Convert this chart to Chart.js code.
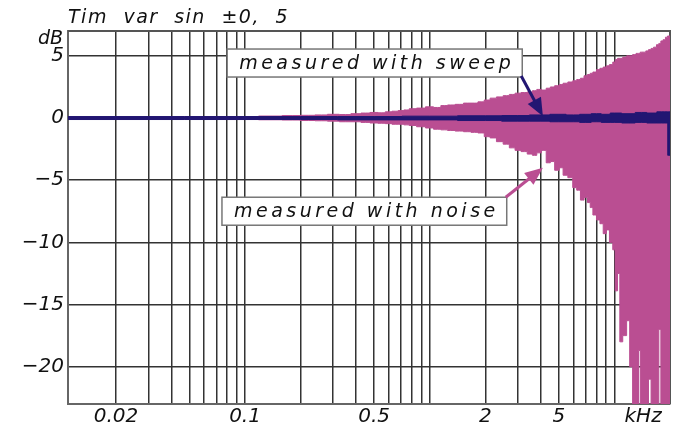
<!DOCTYPE html>
<html>
<head>
<meta charset="utf-8">
<title>Tim var sin ±0, 5</title>
<script src="https://cdn.jsdelivr.net/npm/chart.js@4.4.1/dist/chart.umd.min.js"></script>
<style>
  html, body { margin: 0; padding: 0; background: #fff; }
  #wrap { width: 684px; height: 428px; }
</style>
</head>
<body>
<div id="wrap"><canvas id="chart" width="684" height="428"></canvas></div>
<script>
// frequency response, kHz / dB
var noiseFreq = [0.011, 0.03, 0.06, 0.1, 0.14, 0.18, 0.22, 0.26, 0.3, 0.35, 0.4, 0.45, 0.5, 0.55, 0.6, 0.65,
    0.7, 0.75, 0.8, 0.9, 1.0, 1.1, 1.2, 1.3, 1.45, 1.6, 1.75, 1.9, 2.05, 2.2, 2.4, 2.6, 2.8, 3.0, 3.25,
    3.5, 3.7, 3.9, 4.15, 4.4, 4.6, 4.9, 5.15, 5.4, 5.8, 6.1, 6.4, 6.7, 7.0, 7.3, 7.5, 7.8, 8.2, 8.5,
    8.9, 9.2, 9.6, 10.0, 10.2, 10.6, 10.8, 11.4, 11.9, 12.3, 12.8, 13.4, 13.6, 14.0, 14.6, 15.0, 15.6,
    16.0, 16.6, 17.2, 17.6, 18.1, 18.6, 19.2, 19.6, 20];
var noiseTop = [0.06, 0.08, 0.1, 0.12, 0.16, 0.2, 0.22, 0.25, 0.3, 0.28, 0.35, 0.4, 0.45, 0.42, 0.5, 0.55,
    0.6, 0.65, 0.75, 0.8, 0.9, 0.85, 1.0, 1.05, 1.1, 1.2, 1.2, 1.3, 1.45, 1.6, 1.7, 1.8, 1.9, 2.0, 2.05,
    2.1, 2.2, 2.3, 2.25, 2.4, 2.5, 2.6, 2.7, 2.8, 2.9, 3.0, 3.1, 3.2, 3.4, 3.5, 3.6, 3.7, 3.9, 4.0,
    4.1, 4.2, 4.3, 4.5, 4.7, 4.8, 4.8, 4.9, 5.0, 5.0, 5.1, 5.2, 5.2, 5.3, 5.3, 5.4, 5.5,
    5.6, 5.7, 5.9, 6.0, 6.2, 6.3, 6.5, 6.6, 6.6];
var noiseBottom = [-0.06, -0.08, -0.1, -0.12, -0.14, -0.16, -0.2, -0.22, -0.25, -0.3, -0.3, -0.35, -0.4, -0.42, -0.45, -0.5,
    -0.5, -0.55, -0.6, -0.7, -0.8, -0.9, -0.95, -1.0, -1.05, -1.1, -1.15, -1.2, -1.5, -1.6, -1.9, -2.1, -2.4, -2.6, -2.7,
    -2.9, -3.0, -2.8, -2.6, -3.6, -3.5, -4.2, -4.0, -4.6, -4.8, -5.6, -5.8, -6.6, -6.4, -6.8, -7.2, -7.8, -8.2, -8.5,
    -9.3, -9.0, -10.0, -10.6, -13.9, -12.5, -18.0, -17.5, -16.3, -20.0, -25, -25, -18.7, -25, -25, -25, -21.0,
    -25, -25, -25, -17.0, -25, -25, -25, -25, -25];

var sweepFreq = [0.011, 0.2, 0.5, 1, 2, 3, 4, 5, 6, 7, 8, 9, 10, 12, 14, 16, 18, 19.3, 19.6, 20];
var sweepTop = [0.12, 0.12, 0.12, 0.15, 0.18, 0.2, 0.25, 0.3, 0.25, 0.3, 0.35, 0.3, 0.4, 0.35, 0.45, 0.4, 0.5, 0.5, 0.5, 0.5];
var sweepBottom = [-0.12, -0.12, -0.15, -0.15, -0.2, -0.25, -0.25, -0.3, -0.3, -0.35, -0.3, -0.35, -0.35, -0.4, -0.35, -0.4, -0.4, -0.4, -3.0, -3.0];

// axis ticks
var gridFreqs = [0.02, 0.03, 0.04, 0.05, 0.06, 0.07, 0.08, 0.09, 0.1, 0.2, 0.3, 0.4, 0.5, 0.6, 0.7, 0.8, 0.9,
    1, 2, 3, 4, 5, 6, 7, 8, 9, 10];
var freqLabels = [0.02, 0.1, 0.5, 2, 5];
var unitTickAt = 14.3;
var dbTicks = [-20, -15, -10, -5, 0, 5];

var NAVY = 'rgb(34, 22, 114)';
var PINK = 'rgb(186, 78, 146)';
var FONT = 'DejaVu Sans';

var notes = [
    { text: 'measured with sweep', x: 0.080, y: 5.55, tipX: 4.1, tipY: 0.15, corner: 'bottom', color: NAVY },
    { text: 'measured with noise', x: 0.075, y: -6.37, tipX: 4.1, tipY: -4.0, corner: 'top', color: PINK }
];

// closed outline: upper edge left to right, then lower edge back
function band(xs, top, bottom) {
    var pts = xs.map(function (v, i) { return { x: v, y: top[i] }; });
    for (var i = xs.length - 1; i >= 0; i--) pts.push({ x: xs[i], y: bottom[i] });
    return pts;
}

function arrow(ctx, x1, y1, x2, y2, color) {
    var ang = Math.atan2(y2 - y1, x2 - x1);
    var len = 18, half = 7.5;
    ctx.save();
    ctx.strokeStyle = color;
    ctx.fillStyle = color;
    ctx.lineWidth = 3;
    ctx.beginPath();
    ctx.moveTo(x1, y1);
    ctx.lineTo(x2 - Math.cos(ang) * len * 0.8, y2 - Math.sin(ang) * len * 0.8);
    ctx.stroke();
    ctx.beginPath();
    ctx.moveTo(x2, y2);
    ctx.lineTo(x2 - Math.cos(ang) * len - Math.sin(ang) * half, y2 - Math.sin(ang) * len + Math.cos(ang) * half);
    ctx.lineTo(x2 - Math.cos(ang) * len + Math.sin(ang) * half, y2 - Math.sin(ang) * len - Math.cos(ang) * half);
    ctx.closePath();
    ctx.fill();
    ctx.restore();
}

var decor = {
    id: 'decor',
    beforeDatasetsDraw: function (chart) {
        var ctx = chart.ctx, a = chart.chartArea;
        ctx.save();
        ctx.strokeStyle = '#555';
        ctx.lineWidth = 2;
        ctx.beginPath();
        ctx.moveTo(a.left, a.top);
        ctx.lineTo(a.right, a.top);
        ctx.lineTo(a.right, a.bottom);
        ctx.stroke();
        ctx.restore();
    },
    afterDraw: function (chart) {
        var ctx = chart.ctx, a = chart.chartArea;
        var xs = chart.scales.x, ys = chart.scales.y;
        ctx.save();
        ctx.fillStyle = '#111';
        ctx.textBaseline = 'alphabetic';
        ctx.font = 'italic 19px "' + FONT + '"';
        ctx.letterSpacing = '1.5px';
        ctx.wordSpacing = '8px';
        ctx.textAlign = 'left';
        ctx.fillText('Tim var sin ±0, 5', a.left, 23);
        ctx.wordSpacing = '0px';
        ctx.letterSpacing = '0px';
        ctx.textAlign = 'right';
        ctx.fillText('dB', a.left - 5, 44);

        notes.forEach(function (n) {
            ctx.font = 'italic 19px "' + FONT + '"';
            ctx.letterSpacing = '3.5px';
            ctx.textAlign = 'left';
            var w = ctx.measureText(n.text).width + 20;
            var h = 28;
            var bx = xs.getPixelForValue(n.x), by = ys.getPixelForValue(n.y);
            ctx.fillStyle = '#fff';
            ctx.fillRect(bx, by, w, h);
            ctx.strokeStyle = '#777';
            ctx.lineWidth = 1.5;
            ctx.strokeRect(bx, by, w, h);
            ctx.fillStyle = '#111';
            ctx.fillText(n.text, bx + 12, by + 20);
            var tx = bx + w - 1, ty = n.corner === 'bottom' ? by + h - 1 : by;
            arrow(ctx, tx, ty, xs.getPixelForValue(n.tipX), ys.getPixelForValue(n.tipY), n.color);
        });
        ctx.restore();
    }
};

var ctx = document.getElementById('chart').getContext('2d');
var chart = new Chart(ctx, {
    type: 'line',
    data: {
        datasets: [
            { label: 'measured with sweep', data: band(sweepFreq, sweepTop, sweepBottom),
              borderColor: NAVY, backgroundColor: NAVY, borderWidth: 1,
              stepped: 'middle', pointRadius: 0, fill: 'shape' },
            { label: 'measured with noise', data: band(noiseFreq, noiseTop, noiseBottom),
              borderColor: PINK, backgroundColor: PINK, borderWidth: 1,
              stepped: 'middle', pointRadius: 0, fill: 'shape' }
        ]
    },
    options: {
        responsive: false,
        animation: false,
        layout: { padding: { top: 31, right: 14, left: 0, bottom: 0 } },
        plugins: { legend: { display: false }, tooltip: { enabled: false }, title: { display: false } },
        scales: {
            x: {
                type: 'logarithmic',
                min: 0.011,
                max: 20,
                afterFit: function (s) { s.height = 24; },
                afterBuildTicks: function (s) {
                    s.ticks = gridFreqs.concat([unitTickAt]).map(function (v) { return { value: v }; });
                },
                border: { color: '#666', width: 2 },
                grid: {
                    drawTicks: false,
                    lineWidth: 1.5,
                    color: function (c) {
                        return c.tick && c.tick.value === unitTickAt ? 'rgba(0,0,0,0)' : '#333';
                    }
                },
                ticks: {
                    autoSkip: false,
                    maxRotation: 0,
                    padding: 1,
                    color: '#111',
                    font: { family: FONT, size: 20, style: 'italic' },
                    callback: function (v) {
                        if (v === unitTickAt) return 'kHz';
                        return freqLabels.indexOf(v) >= 0 ? String(v) : '';
                    }
                }
            },
            y: {
                min: -23,
                max: 7,
                afterFit: function (s) { s.width = 68; },
                afterBuildTicks: function (s) {
                    s.ticks = dbTicks.map(function (v) { return { value: v }; });
                },
                border: { color: '#666', width: 2 },
                grid: { drawTicks: false, lineWidth: 1.5, color: '#333' },
                ticks: {
                    padding: 4,
                    color: '#111',
                    font: { family: FONT, size: 20, style: 'italic' },
                    callback: function (v) { return v < 0 ? '\u2212' + Math.abs(v) : String(v); }
                }
            }
        }
    },
    plugins: [decor]
});
</script>
</body>
</html>
